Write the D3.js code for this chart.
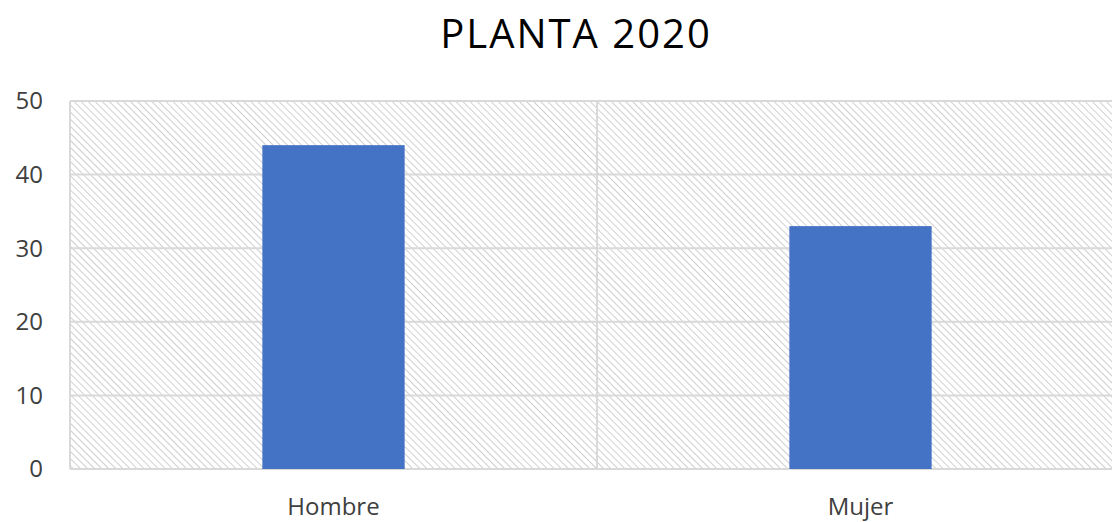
<!DOCTYPE html>
<html>
<head>
<meta charset="utf-8">
<script src="https://cdn.jsdelivr.net/npm/d3@7"></script>
<style>
  body { margin: 0; background: #fff; }
  svg text { font-family: "Open Sans", "Liberation Sans", sans-serif; }
</style>
</head>
<body>
<svg id="chart" width="1112" height="522"></svg>
<script>
// chart data
var categories = ["Hombre", "Mujer"];
var values = [44, 33];
var yTicks = [0, 10, 20, 30, 40, 50];
var title = "PLANTA 2020";

var svg = d3.select("#chart");
var plotLeft = 70, plotRight = 1124, plotTop = 101, plotBottom = 469;

var x = d3.scaleBand().domain(categories).range([plotLeft, plotRight]).paddingInner(0.73).paddingOuter(0.365);
var y = d3.scaleLinear().domain([0, 50]).range([plotBottom, plotTop]);

// diagonal hatch background
var defs = svg.append("defs");
var pat = defs.append("pattern")
  .attr("id", "hatch")
  .attr("patternUnits", "userSpaceOnUse")
  .attr("width", 5).attr("height", 5)
  .attr("patternTransform", "rotate(-45)");
pat.append("line")
  .attr("x1", 0).attr("y1", 0).attr("x2", 0).attr("y2", 5)
  .attr("stroke", "#d0d0d0").attr("stroke-width", 2);

svg.append("rect")
  .attr("x", plotLeft).attr("y", plotTop)
  .attr("width", plotRight - plotLeft).attr("height", plotBottom - plotTop)
  .attr("fill", "url(#hatch)");

// gridlines
svg.selectAll(".grid")
  .data(yTicks)
  .enter().append("line")
  .attr("x1", plotLeft).attr("x2", plotRight)
  .attr("y1", function(d){ return y(d); })
  .attr("y2", function(d){ return y(d); })
  .attr("stroke", "#d9d9d9").attr("stroke-width", 2);

// vertical lines at category boundaries
var bounds = [plotLeft, (plotLeft + plotRight) / 2, plotRight];
svg.selectAll(".vgrid")
  .data(bounds)
  .enter().append("line")
  .attr("x1", function(d){ return d; }).attr("x2", function(d){ return d; })
  .attr("y1", plotTop).attr("y2", plotBottom)
  .attr("stroke", "#d9d9d9").attr("stroke-width", 2);

// bars
svg.selectAll(".bar")
  .data(values)
  .enter().append("rect")
  .attr("x", function(d, i){ return x(categories[i]); })
  .attr("y", function(d){ return y(d); })
  .attr("width", x.bandwidth())
  .attr("height", function(d){ return plotBottom - y(d); })
  .attr("fill", "#4472c4");

// y axis labels
svg.selectAll(".ylab")
  .data(yTicks)
  .enter().append("text")
  .attr("x", 43)
  .attr("y", function(d){ return y(d); })
  .attr("dy", "0.35em")
  .attr("text-anchor", "end")
  .attr("font-size", 24)
  .attr("fill", "#404040")
  .text(function(d){ return d; });

// x axis labels
svg.selectAll(".xlab")
  .data(categories)
  .enter().append("text")
  .attr("x", function(d){ return x(d) + x.bandwidth() / 2; })
  .attr("y", 515)
  .attr("text-anchor", "middle")
  .attr("font-size", 24)
  .attr("fill", "#404040")
  .text(function(d){ return d; });

// title
svg.append("text")
  .attr("x", 576).attr("y", 48)
  .attr("text-anchor", "middle")
  .attr("font-size", 40)
  .attr("letter-spacing", 2)
  .attr("fill", "#000")
  .text(title);
</script>
</body>
</html>
